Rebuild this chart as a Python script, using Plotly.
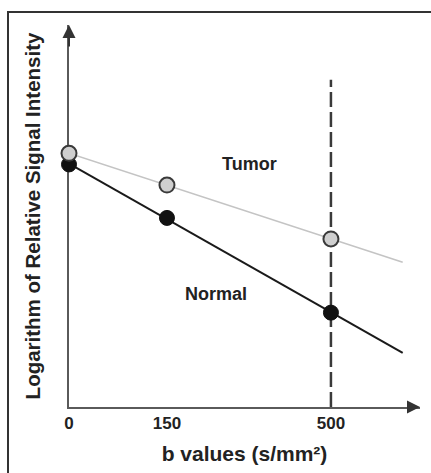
import numpy as np
import plotly.graph_objects as go

# ---- data (schematic, not to scale) ----
b_labels = ["0", "150", "500"]           # tick labels (s/mm²)
b_plot = [0, 187, 500]                   # schematic axis position of each b value
tumor_log_si = [66.4, 58.1, 44.0]        # log relative signal, tumor
normal_log_si = [63.5, 49.5, 24.7]       # log relative signal, normal
x_line_end = 637                         # fitted lines drawn out to here
x_axis_end = 670
y_axis_end = 100
ref_b = 500
ref_top = 85.7

FONT = "Liberation Sans, Arial, sans-serif"
TXT = "#222222"
AX = "#5a5a5a"

def fit_line(xs, ys, x_end):
    m, c = np.polyfit(xs, ys, 1)
    xx = [xs[0], x_end]
    return xx, [m * v + c for v in xx]

fig = go.Figure()

# normal line + points
nx, ny = fit_line(b_plot, normal_log_si, x_line_end)
fig.add_trace(go.Scatter(x=nx, y=ny, mode="lines",
                         line=dict(color="#1a1a1a", width=2), cliponaxis=False,
                         hoverinfo="skip", showlegend=False))
# tumor line
tx, ty = fit_line(b_plot, tumor_log_si, x_line_end)
fig.add_trace(go.Scatter(x=tx, y=ty, mode="lines",
                         line=dict(color="#c4c4c4", width=1.6), cliponaxis=False,
                         hoverinfo="skip", showlegend=False))
fig.add_trace(go.Scatter(x=b_plot, y=normal_log_si, mode="markers", name="Normal",
                         marker=dict(size=15, color="#111111",
                                     line=dict(color="#111111", width=1)),
                         cliponaxis=False, showlegend=False))
fig.add_trace(go.Scatter(x=b_plot, y=tumor_log_si, mode="markers", name="Tumor",
                         marker=dict(size=15, color="#cfcfcf",
                                     line=dict(color="#3a3a3a", width=2)),
                         cliponaxis=False, showlegend=False))

# dashed reference line at b = 500
fig.add_shape(type="line", xref="x", yref="y", x0=ref_b, x1=ref_b, y0=0, y1=ref_top,
              line=dict(color="#3a3a3a", width=2.5, dash="15px,5px"), layer="below")

# outer frame (left + top visible)
fig.add_shape(type="rect", xref="paper", yref="paper",
              x0=-61/351, x1=1.2, y0=-0.5, y1=1 + 13/384,
              line=dict(color="#333333", width=2), layer="below")

# arrowheads
fig.add_annotation(x=0, y=y_axis_end, ax=0, ay=y_axis_end - 6, axref="x", ayref="y",
                   text="", showarrow=True, arrowhead=2, arrowsize=1.3,
                   arrowwidth=2, arrowcolor="#333333")
fig.add_annotation(x=x_axis_end, y=0, ax=x_axis_end - 20, ay=0, axref="x", ayref="y",
                   text="", showarrow=True, arrowhead=2, arrowsize=1.3,
                   arrowwidth=2, arrowcolor="#333333")

# curve labels
fig.add_annotation(x=345, y=63.5, text="Tumor", showarrow=False,
                   font=dict(family=FONT, size=18, color=TXT, weight="bold"))
fig.add_annotation(x=280, y=29.7, text="Normal", showarrow=False,
                   font=dict(family=FONT, size=18, color=TXT, weight="bold"))

fig.update_layout(
    width=431, height=473,
    margin=dict(l=69, r=11, t=25, b=64),
    paper_bgcolor="white", plot_bgcolor="rgba(0,0,0,0)",
    xaxis=dict(range=[0, x_axis_end], showgrid=False, zeroline=False,
               showline=True, linecolor=AX, linewidth=2, layer="below traces",
               tickvals=b_plot, ticktext=b_labels, ticks="",
               tickfont=dict(family=FONT, size=17, color=TXT, weight="bold"),
               title=dict(text="b values (s/mm²)", standoff=14,
                          font=dict(family=FONT, size=21, color=TXT, weight="bold"))),
    yaxis=dict(range=[0, y_axis_end], showgrid=False, zeroline=False,
               showline=True, linecolor=AX, linewidth=2, layer="below traces",
               showticklabels=False, ticks="",
               title=dict(text="Logarithm of Relative Signal Intensity", standoff=21,
                          font=dict(family=FONT, size=20.5, color=TXT, weight="bold"))),
)

fig.write_html("out.html")
